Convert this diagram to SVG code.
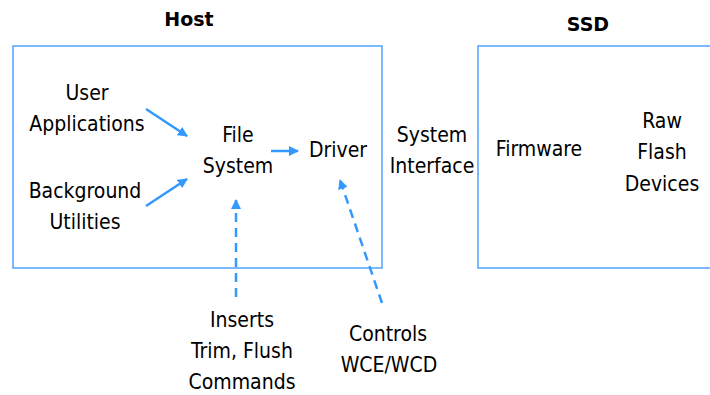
<svg xmlns="http://www.w3.org/2000/svg" width="710" height="395" viewBox="0 0 710 395">
<style>
text{font-family:"DejaVu Sans Condensed","DejaVu Sans",sans-serif;font-size:21px;fill:#000;text-anchor:middle}
.t{font-family:"DejaVu Sans",sans-serif;font-weight:bold;font-size:19px}
.box{fill:none;stroke:#4da3ff;stroke-width:1.5}
.a{stroke:#3399ff;stroke-width:2.5;fill:none;marker-end:url(#ah)}
.d{stroke-dasharray:9,6}
</style>
<defs>
<marker id="ah" viewBox="0 0 10 10" refX="9" refY="5" markerWidth="4" markerHeight="4" orient="auto" markerUnits="strokeWidth">
<path d="M0,0 L10,5 L0,10 z" fill="#3399ff"/>
</marker>
</defs>
<g id="host">
<rect class="box" x="13" y="46" width="369" height="222"/>
<text class="t" x="189" y="26">Host</text>
</g>
<g id="ssd">
<rect class="box" x="478" y="46" width="240" height="222"/>
<text class="t" x="588" y="31">SSD</text>
</g>
<g id="user-apps"><text x="87" y="100">User</text><text x="87" y="131">Applications</text></g>
<g id="bg-utils"><text x="85" y="198">Background</text><text x="85" y="229">Utilities</text></g>
<g id="file-system"><text x="238" y="142">File</text><text x="238" y="173">System</text></g>
<g id="driver"><text x="338" y="157">Driver</text></g>
<g id="system-interface"><text x="432" y="142">System</text><text x="432" y="173">Interface</text></g>
<g id="firmware"><text x="539" y="156">Firmware</text></g>
<g id="raw-flash"><text x="662" y="128">Raw</text><text x="662" y="159">Flash</text><text x="662" y="191">Devices</text></g>
<g id="inserts"><text x="242" y="327">Inserts</text><text x="242" y="358">Trim, Flush</text><text x="242" y="389">Commands</text></g>
<g id="controls"><text x="388" y="341">Controls</text><text x="389" y="372">WCE/WCD</text></g>
<g id="connectors">
<line class="a" x1="146" y1="109" x2="187" y2="136"/>
<line class="a" x1="146" y1="206" x2="187" y2="179"/>
<line class="a" x1="271" y1="151" x2="298" y2="151"/>
<line class="a d" x1="236" y1="297" x2="236" y2="200"/>
<line class="a d" x1="382" y1="303" x2="340" y2="180"/>
</g>
</svg>
